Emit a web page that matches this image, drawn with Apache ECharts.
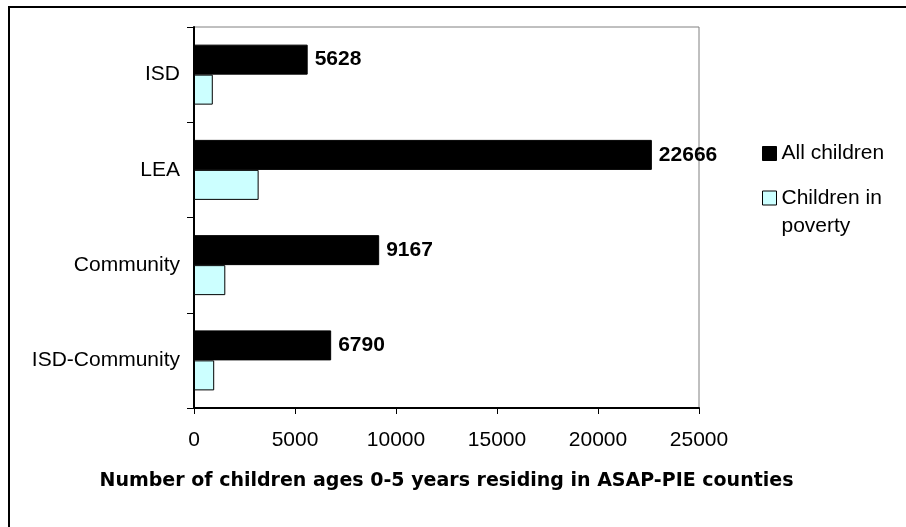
<!DOCTYPE html>
<html>
<head>
<meta charset="utf-8">
<style>
  html, body { margin: 0; padding: 0; background: #fff; }
  #chart { width: 906px; height: 527px; }
</style>
<script src="https://cdn.jsdelivr.net/npm/echarts@6/dist/echarts.min.js"></script>
</head>
<body>
<div id="chart"></div>
<script>
// Program types, top to bottom
const categories = ['ISD', 'LEA', 'Community', 'ISD-Community'];
// Children ages 0-5 per program type
const allChildren = [5628, 22666, 9167, 6790];
const childrenInPoverty = [930, 3200, 1550, 1000];
// Value axis ticks
const xTicks = { min: 0, max: 25000, interval: 5000 };

const FONT = '"Liberation Sans", Arial, sans-serif';
const chart = echarts.init(document.getElementById('chart'), null, { renderer: 'canvas' });

chart.setOption({
  backgroundColor: '#ffffff',
  animation: false,
  textStyle: { fontFamily: FONT, color: '#000' },
  grid: {
    left: 194, right: 207, top: 27, bottom: 119,
    show: true, borderColor: '#808080', borderWidth: 1, backgroundColor: '#ffffff'
  },
  legend: [
    {
      data: ['All children'],
      orient: 'vertical',
      left: 757, top: 138,
      itemWidth: 14, itemHeight: 14, itemGap: 0,
      icon: 'rect',
      textStyle: { fontFamily: FONT, fontSize: 21, color: '#000' },
      itemStyle: { borderColor: '#000', borderWidth: 1 }
    },
    {
      data: ['Children in poverty'],
      orient: 'vertical',
      left: 757, top: 151,
      itemWidth: 14, itemHeight: 14, itemGap: 0,
      icon: 'rect',
      // blank first line keeps the icon level with "Children in"
      formatter: () => '\nChildren in\npoverty',
      textStyle: { fontFamily: FONT, fontSize: 21, color: '#000', lineHeight: 28 },
      itemStyle: { borderColor: '#000', borderWidth: 1 }
    }
  ],
  xAxis: {
    type: 'value',
    min: xTicks.min, max: xTicks.max, interval: xTicks.interval,
    name: 'Number of children ages 0-5 years residing in ASAP-PIE counties',
    nameLocation: 'middle',
    nameGap: 64,
    nameTextStyle: { fontFamily: '"DejaVu Sans", sans-serif', fontSize: 19, fontWeight: 'bold', color: '#000' },
    axisLine: { show: true, lineStyle: { color: '#000', width: 2 } },
    axisTick: { show: true, length: 6, lineStyle: { color: '#000', width: 1 } },
    axisLabel: { fontFamily: FONT, fontSize: 21, color: '#000', margin: 22, formatter: v => String(v) },
    splitLine: { show: false }
  },
  yAxis: {
    type: 'category',
    data: categories,
    inverse: true,
    axisLine: { show: true, lineStyle: { color: '#000', width: 2 } },
    axisTick: { show: true, length: 7, lineStyle: { color: '#000', width: 1 } },
    axisLabel: { fontFamily: FONT, fontSize: 21, color: '#000', margin: 14 },
    splitLine: { show: false }
  },
  series: [
    {
      name: 'All children',
      type: 'bar',
      data: allChildren,
      barWidth: 30,
      barGap: '0%',
      itemStyle: { color: '#000000', borderColor: '#000', borderWidth: 1 },
      label: {
        show: true, position: 'right', distance: 7,
        fontFamily: FONT, fontSize: 21, fontWeight: 'bold', color: '#000'
      }
    },
    {
      name: 'Children in poverty',
      type: 'bar',
      data: childrenInPoverty,
      barWidth: 30,
      barGap: '0%',
      itemStyle: { color: '#CCFFFF', borderColor: '#000', borderWidth: 1 }
    }
  ],
  graphic: [
    {
      type: 'rect',
      shape: { x: 9, y: 7, width: 1000, height: 1000 },
      style: { fill: 'none', stroke: '#000', lineWidth: 2 },
      silent: true,
      z: 100
    }
  ]
});
</script>
</body>
</html>
